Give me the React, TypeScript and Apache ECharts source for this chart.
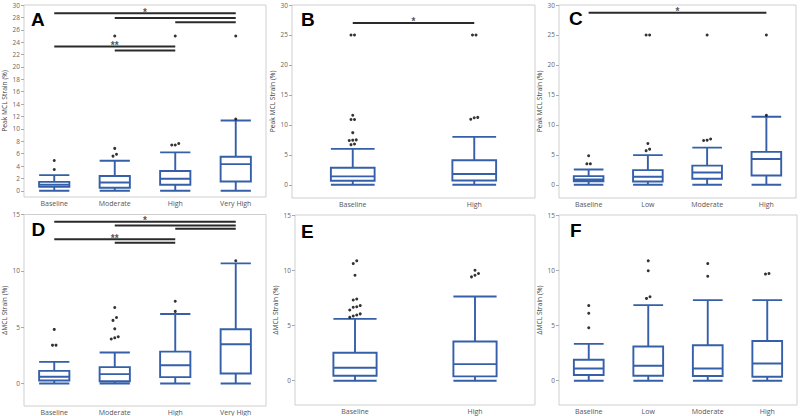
import React, { useEffect, useRef } from "react";
import * as echarts from "echarts";

// ---------- categories ----------
const catsA = ["Baseline", "Moderate", "High", "Very High"];
const catsB = ["Baseline", "High"];
const catsC = ["Baseline", "Low", "Moderate", "High"];

// ---------- y tick labels ----------
const ticksA = [0, 2, 4, 6, 8, 10, 12, 14, 16, 18, 20, 22, 24, 26, 28, 30];
const ticks30 = [0, 5, 10, 15, 20, 25, 30];
const ticks15 = [0, 5, 10, 15];

// ---------- box values: [min, Q1, median, Q3, max] ----------
const boxA = [
  [0, 0.65, 1.0, 1.45, 2.53],
  [0, 0.5, 1.35, 2.4, 4.85],
  [0, 0.97, 1.95, 3.2, 6.2],
  [0, 1.5, 4.3, 5.5, 11.35],
];
const boxB = [
  [0, 0.67, 1.4, 2.85, 6.0],
  [0, 0.73, 1.8, 4.1, 8.0],
];
const boxC = [
  [0, 0.6, 0.9, 1.45, 2.55],
  [0, 0.55, 1.35, 2.45, 4.95],
  [0, 1.0, 2.05, 3.2, 6.2],
  [0, 1.55, 4.3, 5.5, 11.35],
];
const boxD = [
  [0, 0.27, 0.59, 1.12, 1.92],
  [0, 0.2, 0.83, 1.45, 2.75],
  [0, 0.56, 1.62, 2.83, 6.17],
  [0, 0.89, 3.48, 4.81, 10.66],
];
const boxE = [
  [0, 0.45, 1.17, 2.53, 5.6],
  [0, 0.39, 1.5, 3.55, 7.62],
];
const boxF = [
  [0, 0.51, 1.11, 1.89, 3.33],
  [0, 0.45, 1.35, 3.09, 6.84],
  [0, 0.42, 1.11, 3.21, 7.29],
  [0, 0.36, 1.56, 3.6, 7.29],
];

// ---------- outliers: [category index, value] ----------
const outA = [
  [0, 4.9], [0, 3.45],
  [1, 6.85], [1, 5.9], [1, 5.6], [1, 25],
  [2, 7.65], [2, 7.4], [2, 7.4], [2, 25],
  [3, 11.6], [3, 25],
];
const outB = [
  [0, 25], [0, 25], [0, 11.6], [0, 10.9], [0, 10.9], [0, 8.7],
  [0, 7.5], [0, 7.45], [0, 7.4], [0, 6.8], [0, 6.7],
  [1, 25], [1, 25], [1, 11.25], [1, 11.2], [1, 10.95],
];
const outC = [
  [0, 4.85], [0, 3.5], [0, 3.5],
  [1, 6.9], [1, 5.95], [1, 5.7], [1, 25], [1, 25],
  [2, 7.65], [2, 7.45], [2, 7.4], [2, 25],
  [3, 11.6], [3, 25],
];
const outD = [
  [0, 4.8], [0, 3.4], [0, 3.4],
  [1, 6.75], [1, 5.85], [1, 5.6], [1, 4.85], [1, 4.15], [1, 4.05], [1, 3.95],
  [2, 7.3], [2, 6.4],
  [3, 10.9],
];
const outE = [
  [0, 10.85], [0, 10.6], [0, 9.55], [0, 7.4], [0, 7.3], [0, 6.8], [0, 6.7],
  [0, 6.65], [0, 6.4], [0, 6.05], [0, 5.95], [0, 5.85], [0, 5.75],
  [1, 10.0], [1, 9.7], [1, 9.55], [1, 9.4],
];
const outF = [
  [0, 6.8], [0, 6.1], [0, 4.8],
  [1, 10.85], [1, 9.95], [1, 7.6], [1, 7.45],
  [2, 10.6], [2, 9.45],
  [3, 9.7], [3, 9.65],
];

// ---------- significance bars: [from category, to category, value, mark] ----------
const sigA: [number, number, number, string][] = [
  [0, 3, 28.65, "*"], [1, 3, 27.9, ""], [2, 3, 27.2, ""],
  [0, 2, 23.3, "**"], [1, 2, 22.65, ""],
];
const sigB: [number, number, number, string][] = [[0, 1, 27.0, "*"]];
const sigC: [number, number, number, string][] = [[0, 3, 28.7, "*"]];
const sigD: [number, number, number, string][] = [
  [0, 3, 14.35, "*"], [1, 3, 14.02, ""], [2, 3, 13.73, ""],
  [0, 2, 12.81, "**"], [1, 2, 12.49, ""],
];
const sigE: [number, number, number, string][] = [];
const sigF: [number, number, number, string][] = [];

const peakName = "Peak MCL Strain (%)";
const deltaName = "ΔMCL Strain (%)";

const panels = [
  { letter: "A", cats: catsA, box: boxA, out: outA, sig: sigA, min: -1, max: 30, ticks: ticksA, name: peakName },
  { letter: "B", cats: catsB, box: boxB, out: outB, sig: sigB, min: -2.2, max: 30, ticks: ticks30, name: peakName },
  { letter: "C", cats: catsC, box: boxC, out: outC, sig: sigC, min: -2.2, max: 30, ticks: ticks30, name: peakName },
  { letter: "D", cats: catsA, box: boxD, out: outD, sig: sigD, min: -2, max: 15, ticks: ticks15, name: deltaName },
  { letter: "E", cats: catsB, box: boxE, out: outE, sig: sigE, min: -2.2, max: 15, ticks: ticks15, name: deltaName },
  { letter: "F", cats: catsC, box: boxF, out: outF, sig: sigF, min: -2.2, max: 15, ticks: ticks15, name: deltaName },
];

// layout (pixels)
const layout = [
  { left: 23, top: 5, width: 243, height: 192, lx: 31, ly: 19 },
  { left: 292, top: 5, width: 243, height: 193, lx: 301, ly: 19.5 },
  { left: 559, top: 5, width: 237, height: 193, lx: 569, ly: 18.5 },
  { left: 24, top: 214.5, width: 242, height: 192, lx: 31.5, ly: 229 },
  { left: 295, top: 215, width: 240, height: 190, lx: 301, ly: 231 },
  { left: 559, top: 215, width: 238, height: 190, lx: 570, ly: 230 },
];

const BLUE = "#3560a9";
const SIG = "#2a2a2a";
const FONT = "'Open Sans', 'Liberation Sans', sans-serif";

function spreadOffsets(out: number[][], thr: number): number[] {
  const offs = new Array(out.length).fill(0);
  const byCat: Record<number, number[]> = {};
  out.forEach((p, i) => {
    (byCat[p[0]] = byCat[p[0]] || []).push(i);
  });
  Object.values(byCat).forEach((idxs) => {
    idxs.sort((a, b) => out[a][1] - out[b][1]);
    let cluster: number[] = [];
    const flush = () => {
      cluster.forEach((ix, k) => {
        offs[ix] = (k - (cluster.length - 1) / 2) * 3.5;
      });
      cluster = [];
    };
    idxs.forEach((ix) => {
      if (cluster.length && out[ix][1] - out[cluster[cluster.length - 1]][1] > thr) flush();
      cluster.push(ix);
    });
    flush();
  });
  return offs;
}

function buildOption() {
  const grid: any[] = [];
  const xAxis: any[] = [];
  const yAxis: any[] = [];
  const series: any[] = [];
  const graphic: any[] = [];
  const n = panels.length;

  panels.forEach((p, i) => {
    const L = layout[i];
    grid.push({
      left: L.left, top: L.top, width: L.width, height: L.height,
      show: true, borderColor: "#cfcfcf", borderWidth: 1, backgroundColor: "#fff",
    });
    xAxis[i] = {
      type: "category", gridIndex: i, data: p.cats,
      axisLine: { show: false, onZero: false }, axisTick: { show: false },
      axisLabel: { fontSize: 7, color: "#555", margin: 3, fontFamily: FONT },
      splitLine: { show: false },
    };
    // hidden value axis aligned with the category bands (for bars spanning categories)
    xAxis[n + i] = {
      type: "value", gridIndex: i, min: -0.5, max: p.cats.length - 0.5, show: false,
      axisLine: { show: false, onZero: false },
      splitLine: { show: false },
    };
    yAxis.push({
      type: "value", gridIndex: i, min: p.min, max: p.max, position: "left",
      name: p.name, nameLocation: "middle", nameGap: 16,
      nameTextStyle: { fontSize: 6.7, color: "#444", fontFamily: FONT },
      axisLine: { show: false, onZero: false },
      axisTick: { show: true, length: 3, lineStyle: { color: "#aaa" }, customValues: p.ticks },
      axisLabel: { fontSize: 6.5, color: "#666", margin: 4, fontFamily: FONT, customValues: p.ticks },
      splitLine: { show: false },
    });
    const bw = p.cats.length === 2 ? "36%" : "50%";
    series.push({
      type: "boxplot", xAxisIndex: i, yAxisIndex: i, data: p.box,
      boxWidth: [bw, bw],
      itemStyle: { color: "#fff", borderColor: BLUE, borderWidth: 1.9 },
      silent: true,
    });
    const thr = ((p.max - p.min) / L.height) * 3.2;
    const offs = spreadOffsets(p.out, thr);
    series.push({
      type: "scatter", xAxisIndex: i, yAxisIndex: i,
      data: p.out.map((o, k) => ({ value: o, symbolOffset: [offs[k], 0] })),
      symbol: "circle", symbolSize: 3, itemStyle: { color: "#000" }, silent: true,
    });
    p.sig.forEach((s) => {
      series.push({
        type: "line", xAxisIndex: n + i, yAxisIndex: i,
        data: [[s[0], s[2]], [s[1], s[2]]],
        symbol: "none", showSymbol: false, silent: true,
        lineStyle: { color: SIG, width: 2 }, itemStyle: { color: SIG },
      });
      if (s[3]) {
        series.push({
          type: "scatter", xAxisIndex: n + i, yAxisIndex: i,
          data: [[(s[0] + s[1]) / 2, s[2]]],
          symbolSize: 1, itemStyle: { color: "rgba(0,0,0,0)" }, silent: true,
          label: {
            show: true, formatter: s[3], position: "inside", offset: [0, -1],
            fontSize: 10, fontWeight: "bold", color: SIG, textBorderWidth: 0,
            fontFamily: "'Liberation Sans', sans-serif",
          },
        });
      }
    });
    graphic.push({
      type: "text", x: L.lx, y: L.ly, silent: true,
      style: {
        text: p.letter, fill: "#000", fontSize: 19, fontWeight: "bold",
        fontFamily: "'Liberation Sans', Arial, sans-serif", verticalAlign: "middle", align: "left",
      },
    });
  });

  return {
    animation: false,
    backgroundColor: "#fff",
    grid, xAxis, yAxis, series, graphic,
  };
}

export default function App() {
  const ref = useRef<HTMLDivElement>(null);
  useEffect(() => {
    if (!ref.current) return;
    const chart = echarts.init(ref.current, undefined, { renderer: "svg" });
    chart.setOption(buildOption() as any);
    return () => chart.dispose();
  }, []);
  return (
    <div
      ref={ref}
      style={{ position: "fixed", left: 0, top: 0, width: 800, height: 416, background: "#fff" }}
    />
  );
}
